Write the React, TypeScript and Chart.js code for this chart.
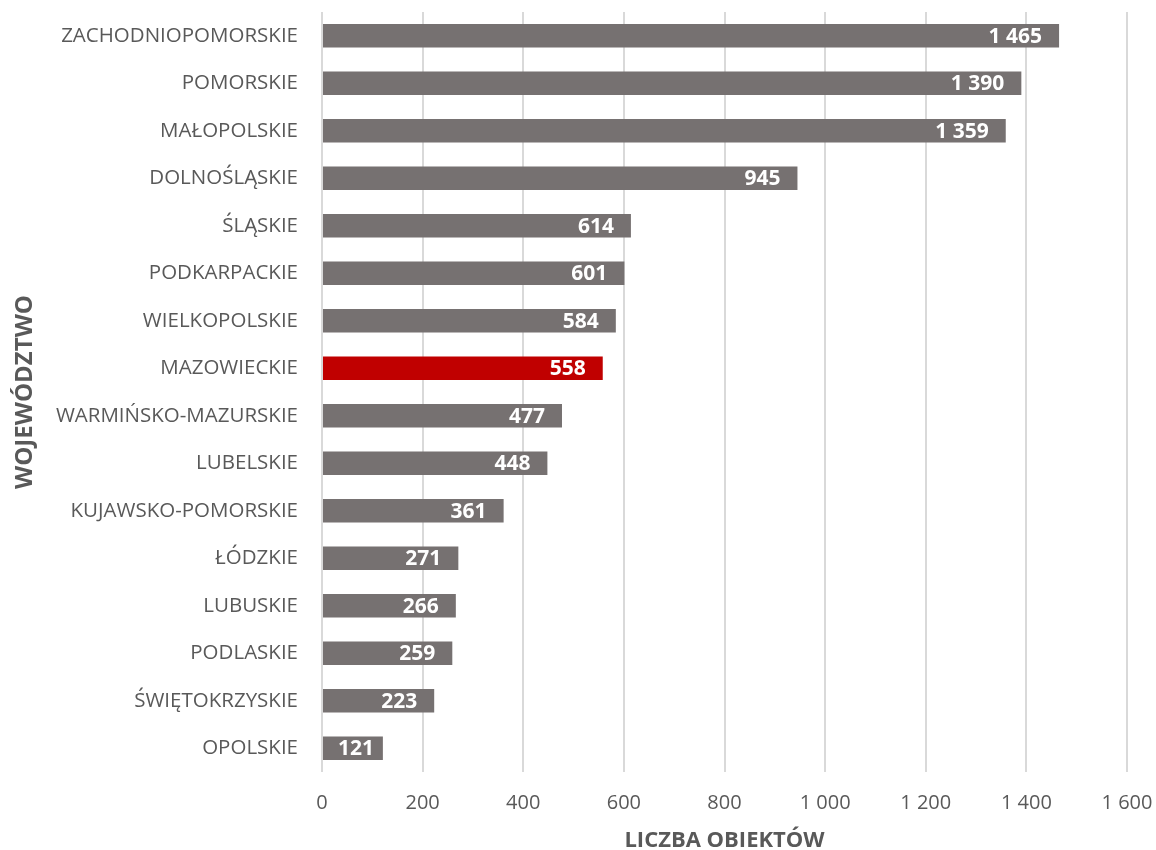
import React, { useEffect, useRef } from 'react';
import { Chart, registerables } from 'chart.js';

Chart.register(...registerables);

const categories = [
  'ZACHODNIOPOMORSKIE',
  'POMORSKIE',
  'MAŁOPOLSKIE',
  'DOLNOŚLĄSKIE',
  'ŚLĄSKIE',
  'PODKARPACKIE',
  'WIELKOPOLSKIE',
  'MAZOWIECKIE',
  'WARMIŃSKO-MAZURSKIE',
  'LUBELSKIE',
  'KUJAWSKO-POMORSKIE',
  'ŁÓDZKIE',
  'LUBUSKIE',
  'PODLASKIE',
  'ŚWIĘTOKRZYSKIE',
  'OPOLSKIE',
];

const values = [1465, 1390, 1359, 945, 614, 601, 584, 558, 477, 448, 361, 271, 266, 259, 223, 121];

const highlighted = 'MAZOWIECKIE';

const xMin = 0;
const xMax = 1600;
const xStep = 200;

const xTitle = 'LICZBA OBIEKTÓW';
const yTitle = 'WOJEWÓDZTWO';

const FONT = "'Open Sans', 'Noto Sans', sans-serif";
const TEXT = '#595959';
const BAR = '#767171';
const RED = '#C00000';

function fmt(n: number): string {
  const s = Math.round(n).toString();
  return s.replace(/\B(?=(\d{3})+(?!\d))/g, ' ');
}

const labelPlugin = {
  id: 'barLabels',
  afterDatasetsDraw(chart: any) {
    const ctx = chart.ctx;
    const meta = chart.getDatasetMeta(0);
    ctx.save();
    ctx.font = `bold 21px ${FONT}`;
    ctx.fillStyle = '#ffffff';
    ctx.textBaseline = 'middle';
    ctx.textAlign = 'left';
    meta.data.forEach((bar: any, i: number) => {
      const txt = fmt(values[i]);
      const w = ctx.measureText(txt).width;
      let left = bar.x - 17 - w;
      const minLeft = bar.base + 15;
      if (left < minLeft) left = minLeft;
      ctx.fillText(txt, left, bar.y + 1);
    });
    ctx.restore();
  },
};

export default function App() {
  const ref = useRef<HTMLCanvasElement | null>(null);

  useEffect(() => {
    document.body.style.margin = '0';
    if (!ref.current) return;
    const chart = new Chart(ref.current, {
      type: 'bar',
      data: {
        labels: categories,
        datasets: [
          {
            data: values,
            backgroundColor: categories.map((c) => (c === highlighted ? RED : BAR)),
            borderWidth: 0,
            barPercentage: 0.49,
            categoryPercentage: 1,
          },
        ],
      },
      options: {
        indexAxis: 'y',
        animation: false,
        responsive: false,
        maintainAspectRatio: false,
        layout: { padding: { top: 12, right: 29, bottom: 0, left: 0 } },
        plugins: {
          legend: { display: false },
          tooltip: { enabled: false },
        },
        scales: {
          x: {
            type: 'linear',
            min: xMin,
            max: xMax,
            ticks: {
              stepSize: xStep,
              color: TEXT,
              font: { family: FONT, size: 20 },
              padding: 19,
              callback: (v: any) => fmt(Number(v)),
            },
            grid: { color: '#d9d9d9', lineWidth: 2, drawTicks: false },
            border: { display: false },
            title: {
              display: true,
              text: xTitle,
              color: TEXT,
              font: { family: FONT, size: 22, weight: 'bold', lineHeight: 1 },
              padding: { top: 0, bottom: -2 },
            },
            afterFit: (scale: any) => {
              scale.height = 78;
              scale.paddingLeft = 0;
              scale.paddingRight = 0;
              scale.paddingTop = 0;
              scale.paddingBottom = 0;
            },
          },
          y: {
            type: 'category',
            ticks: {
              color: TEXT,
              font: { family: FONT, size: 20.5 },
              padding: 24,
              autoSkip: false,
            },
            grid: { display: false, drawTicks: false },
            border: { display: false },
            title: {
              display: true,
              text: yTitle,
              color: TEXT,
              font: { family: FONT, size: 24, weight: 'bold', lineHeight: 1 },
              padding: { top: 13, bottom: 0 },
            },
            afterFit: (scale: any) => {
              scale.width = 322;
              scale.paddingLeft = 0;
              scale.paddingRight = 0;
              scale.paddingTop = 0;
              scale.paddingBottom = 0;
            },
          },
        },
      },
      plugins: [labelPlugin],
    } as any);
    return () => chart.destroy();
  }, []);

  return (
    <div style={{ width: 1156, height: 850 }}>
      <canvas ref={ref} width={1156} height={850} style={{ display: 'block', width: 1156, height: 850 }} />
    </div>
  );
}
